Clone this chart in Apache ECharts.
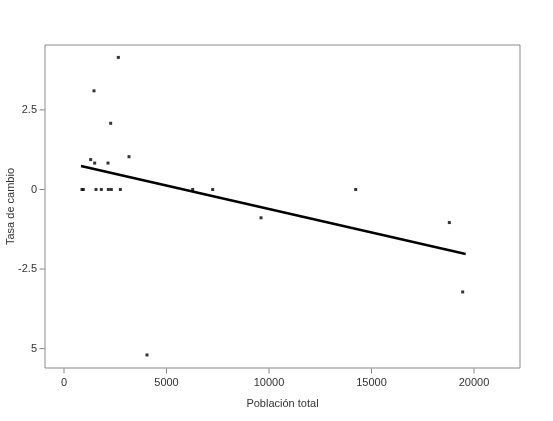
<!DOCTYPE html>
<html>
<head>
<meta charset="utf-8">
<script src="https://cdn.jsdelivr.net/npm/echarts@6/dist/echarts.min.js"></script>
<style>
  html, body { margin: 0; padding: 0; background: #fff; }
  #chart { width: 553px; height: 421px; }
</style>
</head>
<body>
<div id="chart"></div>
<script>
// puntos (población total, tasa de cambio)
const poblacion = [878, 943, 1300, 1463, 1496, 1561, 1821, 2146, 2163, 2276, 2309, 2650, 2748, 3171, 4049, 6276, 7252, 9610, 14229, 18796, 19448]
const tasa = [0, 0, 0.94, 3.10, 0.83, 0, 0, 0.83, 0, 2.08, 0, 4.15, 0, 1.03, -5.20, 0, 0, -0.89, 0, -1.04, -3.22]
// recta de regresión
const rectaX = [829, 19595]
const rectaY = [0.74, -2.03]
// marcas de los ejes
const xTicks = [0, 5000, 10000, 15000, 20000]
const yTicks = [-5, -2.5, 0, 2.5]
const yLabels = { '-5': '5', '-2.5': '-2.5', '0': '0', '2.5': '2.5' }
// límites del área de dibujo
const xMin = -927, xMax = 22244
const yMin = -5.61, yMax = 4.54

const puntos = poblacion.map((v, i) => [v, tasa[i]])
const recta = rectaX.map((v, i) => [v, rectaY[i]])

const font = 'Liberation Sans, Arial, sans-serif'
const tickColor = '#666'
const chart = echarts.init(document.getElementById('chart'))

// marcas de graduación dibujadas como símbolos (axisTick.customValues no pinta nada aquí)
const tickSeries = (data, size, offset) => ({
  type: 'scatter',
  data,
  symbol: 'rect',
  symbolSize: size,
  symbolOffset: offset,
  clip: false,
  silent: true,
  itemStyle: { color: tickColor }
})

chart.setOption({
  animation: false,
  grid: {
    left: 45, right: 33, top: 45, bottom: 53,
    outerBoundsMode: 'none',
    containLabel: false,
    show: true, borderColor: '#8a8a8a', borderWidth: 1
  },
  xAxis: {
    type: 'value',
    min: xMin,
    max: xMax,
    name: 'Población total',
    nameLocation: 'middle',
    nameGap: 30,
    nameMoveOverlap: false,
    nameTextStyle: { fontFamily: font, fontSize: 11, color: '#333' },
    splitLine: { show: false },
    axisLine: { show: false, onZero: false },
    axisTick: { show: false },
    axisLabel: {
      fontFamily: font, fontSize: 11, color: '#333', margin: 9,
      customValues: xTicks,
      formatter: v => String(v)
    }
  },
  yAxis: {
    type: 'value',
    min: yMin,
    max: yMax,
    name: 'Tasa de cambio',
    nameLocation: 'middle',
    nameGap: 29,
    nameMoveOverlap: false,
    nameTextStyle: { fontFamily: font, fontSize: 11, color: '#333' },
    splitLine: { show: false },
    axisLine: { show: false, onZero: false },
    axisTick: { show: false },
    axisLabel: {
      fontFamily: font, fontSize: 11, color: '#333', margin: 8,
      customValues: yTicks,
      formatter: v => yLabels[String(v)] ?? String(v)
    }
  },
  series: [
    tickSeries(xTicks.map(v => [v, yMin]), [1, 5], [0, 3]),
    tickSeries(yTicks.map(v => [xMin, v]), [5, 1], [-3, 0]),
    {
      type: 'scatter',
      data: puntos,
      symbol: 'rect',
      symbolSize: 3,
      itemStyle: { color: '#000' }
    },
    {
      type: 'line',
      data: recta,
      showSymbol: false,
      lineStyle: { color: '#000', width: 2.5 }
    }
  ]
})
</script>
</body>
</html>
